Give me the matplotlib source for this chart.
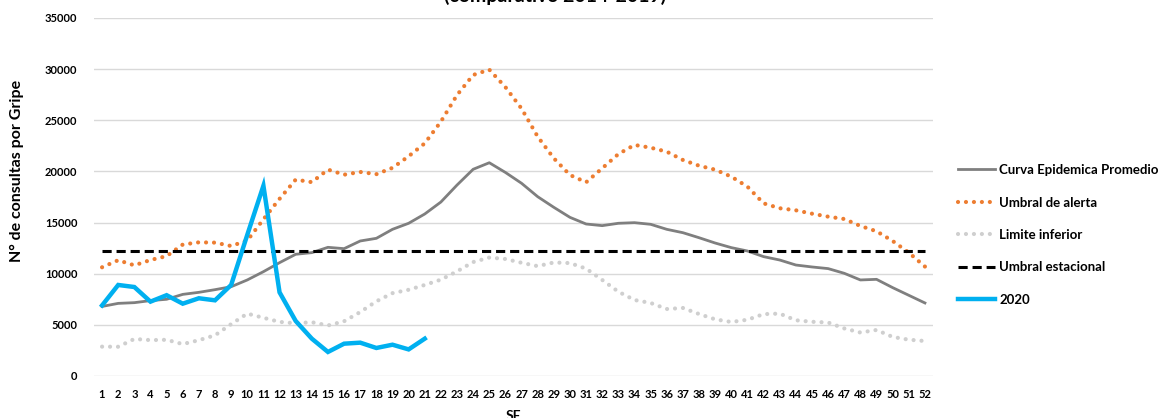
import matplotlib
matplotlib.use("Agg")
import matplotlib.pyplot as plt

# Epidemiological weeks
semanas = list(range(1, 53))

# Average epidemic curve 2014-2019
curva_promedio = [6800, 7100, 7170, 7370, 7500, 7980, 8180, 8440, 8730, 9390,
                  10200, 11080, 11900, 12060, 12580, 12450, 13200, 13460, 14340, 14930,
                  15840, 17010, 18670, 20210, 20850, 19900, 18840, 17530, 16490, 15510,
                  14860, 14700, 14930, 14990, 14830, 14340, 14010, 13520, 13000, 12550,
                  12220, 11670, 11340, 10850, 10660, 10500, 10040, 9390, 9450, 8640,
                  7890, 7140]

# Alert threshold
umbral_alerta = [10630, 11320, 10820, 11340, 11720, 12850, 13070, 13040, 12710, 13240,
                 15320, 17320, 19200, 18950, 20180, 19680, 19950, 19730, 20350, 21480,
                 22750, 24870, 27470, 29430, 29950, 28240, 26140, 23400, 21280, 19650,
                 18940, 20310, 21700, 22590, 22320, 21930, 21120, 20560, 20170, 19490,
                 18510, 16880, 16400, 16200, 15870, 15580, 15350, 14670, 14150, 13200,
                 12060, 10700]

# Lower limit
limite_inferior = [2870, 2860, 3620, 3510, 3540, 3120, 3500, 3980, 5070, 6100,
                   5690, 5290, 5150, 5260, 4940, 5350, 6250, 7300, 8100, 8430,
                   8900, 9420, 10230, 11140, 11580, 11440, 11070, 10740, 11100, 11040,
                   10500, 9390, 8240, 7430, 7140, 6550, 6650, 6060, 5540, 5280,
                   5500, 6050, 6100, 5450, 5300, 5230, 4650, 4250, 4500, 3820,
                   3550, 3420]

# Seasonal threshold (constant)
umbral_estacional = 12250

# Season 2020 (weeks reported so far)
casos_2020 = [6900, 8900, 8700, 7270, 7900, 7070, 7600, 7400, 8900, 13800,
              18600, 8180, 5380, 3650, 2350, 3160, 3260, 2740, 3060, 2600,
              3650]

y_ticks = list(range(0, 35001, 5000))

plt.rcParams['font.family'] = ['Lato', 'DejaVu Sans']
plt.rcParams['font.weight'] = 'bold'

W, H = 1169, 418
fig = plt.figure(figsize=(W / 100, H / 100), dpi=100)
ax = fig.add_axes([94 / W, 1 - 376 / H, (933 - 94) / W, (376 - 18) / H])

dots = (0, (0.01, 1.9))
ax.plot(semanas, curva_promedio, color='#7F7F7F', lw=2.0,
        label='Curva Epidemica Promedio', zorder=3)
ax.plot(semanas, umbral_alerta, color='#ED7D31', lw=3.0, linestyle=dots,
        dash_capstyle='round', label='Umbral de alerta', zorder=3)
ax.plot(semanas, limite_inferior, color='#CFCFCF', lw=3.0, linestyle=dots,
        dash_capstyle='round', label='Limite inferior', zorder=3)
ax.plot(semanas, [umbral_estacional] * len(semanas), color='black', lw=2.2,
        linestyle=(0, (3.0, 1.6)), label='Umbral estacional', zorder=3)
ax.plot(semanas[:len(casos_2020)], casos_2020, color='#00B0F0', lw=3.2,
        solid_joinstyle='miter', label='2020', zorder=4)

ax.set_xlim(0.5, 52.5)
ax.set_ylim(0, 35000)
ax.set_xticks(semanas)
ax.set_xticklabels([str(s) for s in semanas], fontsize=8, fontweight='bold')
ax.set_yticks(y_ticks)
ax.set_yticklabels([str(v) for v in y_ticks], fontsize=8, fontweight='bold')
ax.tick_params(axis='both', length=0)
ax.tick_params(axis='y', pad=12)
ax.tick_params(axis='x', pad=9)
ax.grid(axis='y', color='#D9D9D9', lw=1.0)
ax.set_axisbelow(True)
for s in ax.spines.values():
    s.set_visible(False)

fig.text(17 / W, 1 - 171 / H, 'N° de consultas por Gripe', rotation=90,
         ha='center', va='center', fontsize=11.5, fontweight='bold')
fig.text(513 / W, 1 - 416 / H, 'SE', ha='center', va='center',
         fontsize=10, fontweight='bold')
fig.text(555 / W, 1 - 2 / H, '(comparativo 2014-2019)', ha='center',
         va='baseline', fontsize=14, fontweight='bold')

fig.legend(loc='center left', bbox_to_anchor=(946 / W, 1 - 235 / H),
           frameon=False, handlelength=2.8, handletextpad=0.35,
           labelspacing=1.55, prop={'weight': 'bold', 'size': 9.5})

fig.savefig('out.png', dpi=100)
